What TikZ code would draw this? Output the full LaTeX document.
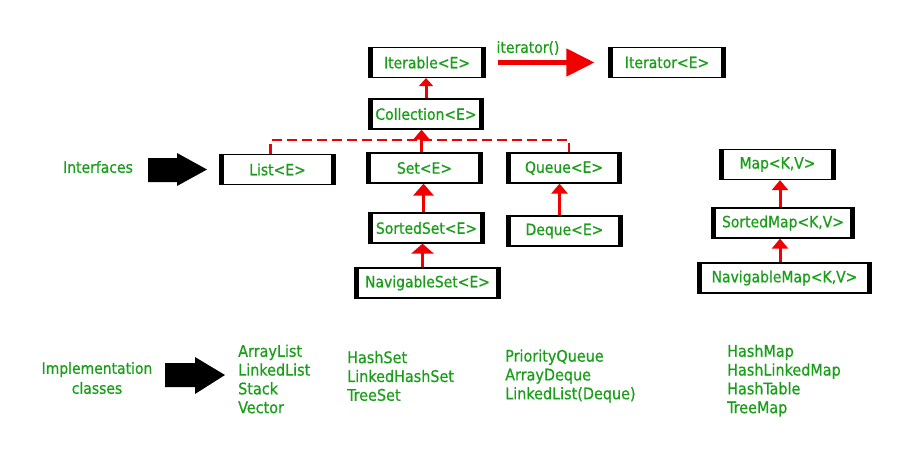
\documentclass[tikz,border=0pt]{standalone}
\usepackage{fontspec}
\setmainfont{DejaVu Sans Condensed}[RawFeature={embolden=0.7}]
\usepackage{xcolor}
\usepackage{tikz}
\usetikzlibrary{positioning,calc,arrows.meta}
\definecolor{itgreen}{HTML}{1A9E1A}
\definecolor{itred}{HTML}{F00000}

\tikzset{
  ifacebox/.style={draw=black, line width=1.2pt, fill=white, text=itgreen,
    font=\fontsize{15.5}{18}\selectfont, minimum height=30pt, inner sep=0pt,
    path picture={\draw[line width=8pt]
      (path picture bounding box.north west) -- (path picture bounding box.south west)
      (path picture bounding box.north east) -- (path picture bounding box.south east);}},
  inherit/.style={draw=itred, line width=3pt, -{Triangle[width=16pt,length=10pt]}},
  implist/.style={text=itgreen, font=\fontsize{16}{18.8}\selectfont, inner sep=0pt, align=left, anchor=west}
}

\begin{document}
\begin{tikzpicture}[x=1pt, y=-1pt]
  \useasboundingbox (0,0) rectangle (912,471);

  % Top: Iterable and Iterator
  \node[ifacebox, minimum width=116pt] (iterable) at (427,62.5) {Iterable<E>};
  \node[ifacebox, minimum width=116pt] (iterator) at (667,62.5) {Iterator<E>};
  \draw[draw=itred, line width=4.5pt, -{Triangle[width=27pt,length=28pt]},
        shorten <=12pt, shorten >=14pt] (iterable) -- (iterator);
  \node[text=itgreen, font=\fontsize{15.5}{18}\selectfont, inner sep=0pt] (itlabel) at (528,48) {iterator()};

  % Collection
  \node[ifacebox, minimum width=114pt] (collection) at (426,114) {Collection<E>};
  \draw[inherit, -{Triangle[width=14pt,length=8pt]}] (collection.north) -- (collection.north |- iterable.south);

  % Interfaces row
  \node[text=itgreen, font=\fontsize{15.5}{18}\selectfont, inner sep=0pt] (ifacetext) at (98,167) {Interfaces};
  \fill[black] (148,158) -- (177,158) -- (177,153) -- (207,169.5) -- (177,186) -- (177,182) -- (148,182) -- cycle;
  \node[ifacebox, minimum width=115pt] (list) at (277.5,169.5) {List<E>};
  \node[ifacebox, minimum width=115pt] (set) at (424.5,168) {Set<E>};
  \node[ifacebox, minimum width=114pt] (queue) at (564,168) {Queue<E>};
  \coordinate (bus) at (420,140);
  \draw[draw=itred, line width=2.4pt, dash pattern=on 10pt off 5pt]
    ([xshift=-7pt]list.north) |- (bus) -| ([xshift=5pt]queue.north);
  \draw[inherit] ([xshift=-3pt]set.north) -- ([xshift=-3pt]set.north |- collection.south);

  % Sets and deque
  \node[ifacebox, minimum width=115pt] (sortedset) at (426.5,228) {SortedSet<E>};
  \node[ifacebox, minimum width=145pt] (navset) at (427.5,283) {NavigableSet<E>};
  \node[ifacebox, minimum width=115pt] (deque) at (564.5,231) {Deque<E>};
  \draw[inherit, -{Triangle[width=20pt,length=12pt]}] ([xshift=-3pt]sortedset.north) -- ([xshift=-3pt]sortedset.north |- set.south);
  \draw[inherit, -{Triangle[width=22pt,length=10pt]}] ([xshift=-5pt]navset.north) -- ([xshift=-5pt]navset.north |- sortedset.south);
  \draw[inherit] ([xshift=-5pt]deque.north) -- ([xshift=-5pt]deque.north |- queue.south);

  % Maps
  \node[ifacebox, minimum width=115pt] (map) at (777.5,164.5) {Map<K,V>};
  \node[ifacebox, minimum width=142pt] (sortedmap) at (783,223) {SortedMap<K,V>};
  \node[ifacebox, minimum width=173pt] (navmap) at (784.5,278) {NavigableMap<K,V>};
  \draw[inherit] ([xshift=-3pt]sortedmap.north) -- ([xshift=-3pt]sortedmap.north |- map.south);
  \draw[inherit] ([xshift=-4.5pt]navmap.north) -- ([xshift=-4.5pt]navmap.north |- sortedmap.south);

  % Implementation classes
  \node[text=itgreen, font=\fontsize{15.5}{20}\selectfont, inner sep=0pt, align=center] (impltext) at (97,378) {Implementation\\classes};
  \fill[black] (165,363) -- (195,363) -- (195,357) -- (225,375) -- (195,394) -- (195,387) -- (165,387) -- cycle;
  \node[implist] (listimpl) at (238,379) {ArrayList\\LinkedList\\Stack\\Vector};
  \node[implist] (setimpl) at (347,376) {HashSet\\LinkedHashSet\\TreeSet};
  \node[implist] (queueimpl) at (505,376) {PriorityQueue\\ArrayDeque\\LinkedList(Deque)};
  \node[implist] (mapimpl) at (727,380.5) {HashMap\\HashLinkedMap\\HashTable\\TreeMap};
\end{tikzpicture}
\end{document}
